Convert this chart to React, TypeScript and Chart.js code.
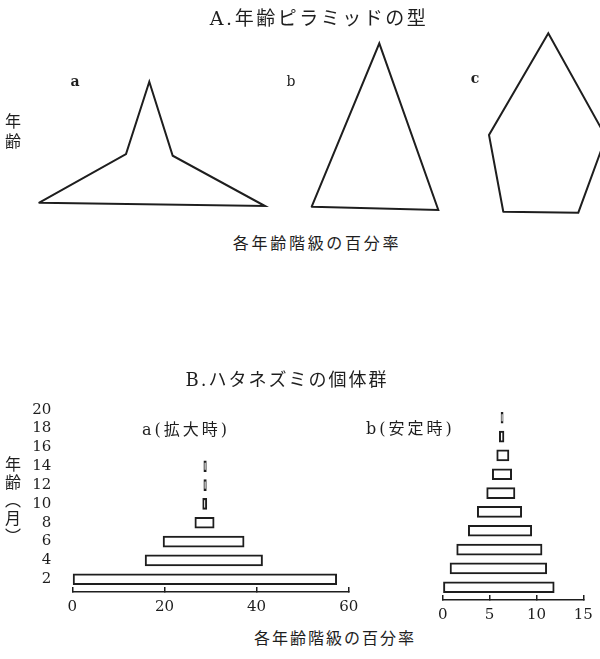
import React, { useEffect, useRef } from "react";
import { Chart, registerables } from "chart.js";

Chart.register(...registerables);

const INK = "#1e1e1e";
const SERIF = "'DejaVu Serif', 'Liberation Serif', serif";
const MIXED = "'DejaVu Serif', 'Noto Sans CJK JP', sans-serif";
const JP = "'Noto Sans CJK JP', sans-serif";

// A: outlines of the three pyramid types (x: spread of the age classes, y: age)
const TYPE_A_OUTLINE: [number, number][] = [[3.93, 2.73], [12.6, 7.6], [14.93, 14.83], [17.27, 7.43], [26.5, 2.4]];
const TYPE_B_OUTLINE: [number, number][] = [[31.17, 2.33], [37.93, 18.67], [43.83, 2.0]];
const TYPE_C_OUTLINE: [number, number][] = [[50.33, 1.83], [48.9, 9.5], [54.83, 19.67], [60.6, 9.3], [57.83, 1.73]];

// B: vole population by age class (months)
const AGE_MONTHS = [2, 4, 6, 8, 10, 12, 14, 16, 18, 20];
const AGE_TICKS = [2, 4, 6, 8, 10, 12, 14, 16, 18, 20];
// a (拡大時): each age class as a [left, right] span of its percentage
const EXPANDING_SPANS: [number, number][] = [[0, 57.4], [15.8, 41.3], [19.7, 37.3], [26.6, 30.8], [28.3, 29.2], [28.55, 29.1], [28.55, 29.1]];
// b (安定時)
const STABLE_SPANS: [number, number][] = [[0, 11.9], [0.78, 11.1], [1.49, 10.6], [2.73, 9.5], [3.69, 8.43], [4.69, 7.71], [5.29, 7.36], [5.76, 7.07], [6.04, 6.54], [6.22, 6.45]];
const EXPANDING_X_TICKS = [0, 20, 40, 60];
const STABLE_X_TICKS = [0, 5, 10, 15];
const AGE_MIN = 0.65;
const AGE_MAX = 21;

const quiet = { legend: { display: false }, tooltip: { enabled: false } };

const closeOutline = (pts: [number, number][]) => [...pts, pts[0]].map(([x, y]) => ({ x, y }));

function buildTypes(): any {
  return {
    type: "scatter",
    data: {
      datasets: [TYPE_A_OUTLINE, TYPE_B_OUTLINE, TYPE_C_OUTLINE].map((pts) => ({
        data: closeOutline(pts),
        showLine: true,
        borderColor: INK,
        borderWidth: 2,
        borderJoinStyle: "miter",
        borderCapStyle: "round",
        pointRadius: 0,
        pointHoverRadius: 0,
        fill: false,
        tension: 0,
        clip: false,
      })),
    },
    options: {
      animation: false,
      responsive: false,
      events: [],
      layout: { padding: 0 },
      plugins: quiet,
      scales: {
        x: { type: "linear", min: 0, max: 60, display: false },
        y: { type: "linear", min: 0, max: 23, display: false },
      },
    },
  };
}

function buildPyramid(spans: [number, number][], xTicks: number[], showAges: boolean, padding: any): any {
  const tickFont = { family: SERIF, size: 15 };
  return {
    type: "bar",
    data: {
      datasets: [
        {
          data: spans.map((span, i) => ({ y: AGE_MONTHS[i], x: span })),
          backgroundColor: "#ffffff",
          borderColor: INK,
          borderWidth: 2,
          borderSkipped: false,
          barThickness: 11,
        },
      ],
    },
    options: {
      indexAxis: "y",
      animation: false,
      responsive: false,
      events: [],
      layout: { padding },
      plugins: quiet,
      scales: {
        x: {
          type: "linear",
          min: xTicks[0],
          max: xTicks[xTicks.length - 1],
          offset: false,
          afterBuildTicks: (s: any) => {
            s.ticks = xTicks.map((value) => ({ value }));
          },
          afterFit: (s: any) => {
            s.height = 30;
            s.paddingLeft = 0;
            s.paddingRight = 0;
          },
          grid: { drawOnChartArea: false, drawTicks: true, tickLength: -5, color: INK, lineWidth: 1.5, offset: false },
          border: { display: true, color: INK, width: 1.5 },
          ticks: { font: tickFont, color: INK, padding: 11, maxRotation: 0, autoSkip: false },
        },
        y: {
          type: "linear",
          display: showAges,
          min: AGE_MIN,
          max: AGE_MAX,
          offset: false,
          afterBuildTicks: (s: any) => {
            s.ticks = AGE_TICKS.map((value) => ({ value }));
          },
          afterFit: (s: any) => {
            s.width = showAges ? 72.3 : 0;
            s.paddingTop = 0;
            s.paddingBottom = 0;
          },
          grid: { display: false, offset: false },
          border: { display: false },
          ticks: { font: tickFont, color: INK, padding: 13, autoSkip: false },
        },
      },
    },
  };
}

function ChartCanvas(props: { left: number; top: number; width: number; height: number; build: () => any }) {
  const ref = useRef<HTMLCanvasElement>(null);
  useEffect(() => {
    const chart = new Chart(ref.current as HTMLCanvasElement, props.build());
    return () => chart.destroy();
  }, []);
  return (
    <canvas
      ref={ref}
      width={props.width}
      height={props.height}
      style={{ position: "absolute", left: props.left, top: props.top, width: props.width, height: props.height }}
    />
  );
}

function Text(props: { x: number; y: number; size: number; spacing?: number; family?: string; weight?: any; anchor?: "center" | "left"; vertical?: boolean; children: any }) {
  const { x, y, size, spacing = 0, family = MIXED, weight = "normal", anchor = "center", vertical = false } = props;
  return (
    <div
      style={{
        position: "absolute",
        left: x,
        top: y,
        transform: anchor === "center" ? "translate(-50%, -50%)" : "translate(0, -50%)",
        whiteSpace: "nowrap",
        lineHeight: 1,
        fontSize: size,
        fontFamily: family,
        fontWeight: weight,
        letterSpacing: spacing,
        color: INK,
        writingMode: vertical ? "vertical-rl" : undefined,
      }}
    >
      {props.children}
    </div>
  );
}

export default function App() {
  return (
    <div style={{ position: "absolute", left: 0, top: 0, width: 600, height: 659, background: "#ffffff", overflow: "hidden" }}>
      <ChartCanvas left={0} top={0} width={600} height={230} build={buildTypes} />
      <ChartCanvas
        left={0}
        top={388}
        width={360}
        height={234}
        build={() => buildPyramid(EXPANDING_SPANS, EXPANDING_X_TICKS, true, { top: 12.3, right: 11.3, left: 0, bottom: 0 })}
      />
      <ChartCanvas
        left={430}
        top={396}
        width={170}
        height={234}
        build={() => buildPyramid(STABLE_SPANS, STABLE_X_TICKS, false, { top: 12.3, right: 16.7, left: 12.7, bottom: 0 })}
      />

      <Text x={319} y={18} size={19} spacing={2.5}>A.年齢ピラミッドの型</Text>
      <Text x={75} y={81} size={14} family={SERIF} weight="bold">a</Text>
      <Text x={291} y={81} size={14} family={SERIF}>b</Text>
      <Text x={475} y={78} size={14} family={SERIF} weight="bold">c</Text>
      <Text x={13} y={133} size={16} spacing={4} family={JP} vertical>年齢</Text>
      <Text x={317} y={242} size={16} spacing={2.7} family={JP}>各年齢階級の百分率</Text>

      <Text x={287} y={380} size={18} spacing={2}>B.ハタネズミの個体群</Text>
      <Text x={142} y={430} size={16} spacing={3} anchor="left">a(拡大時)</Text>
      <Text x={366} y={429} size={16} spacing={3} anchor="left">b(安定時)</Text>
      <Text x={13} y={501} size={16} spacing={2} family={JP} vertical>年齢（月）</Text>
      <Text x={335} y={637} size={16} spacing={2} family={JP}>各年齢階級の百分率</Text>
    </div>
  );
}
